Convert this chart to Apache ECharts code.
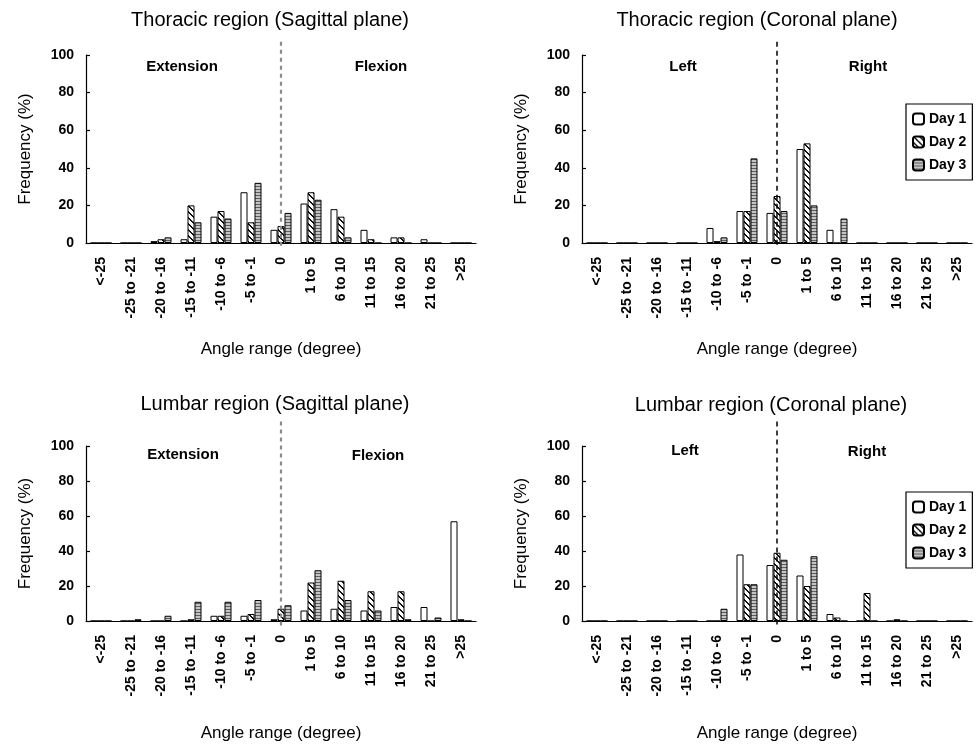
<!DOCTYPE html>
<html><head><meta charset="utf-8">
<script src="https://cdn.jsdelivr.net/npm/echarts@6/dist/echarts.min.js"></script>
<style>html,body{margin:0;padding:0;background:#fff}#c{width:977px;height:745px}</style>
</head><body><div id="c"></div>
<script>
const categories = ['<-25','-25 to -21','-20 to -16','-15 to -11','-10 to -6','-5 to -1','0','1 to 5','6 to 10','11 to 15','16 to 20','21 to 25','>25'];
const dayNames = ['Day 1','Day 2','Day 3'];
const yTicks = [0, 20, 40, 60, 80, 100];

const thoracicSagittalDay1 = [0,0,1,2,14,27,7,21,18,7,3,2,0];
const thoracicSagittalDay2 = [0,0,2,20,17,11,9,27,14,2,3,0,0];
const thoracicSagittalDay3 = [0,0,3,11,13,32,16,23,3,0,0,0,0];

const thoracicCoronalDay1 = [0,0,0,0,8,17,16,50,7,0,0,0,0];
const thoracicCoronalDay2 = [0,0,0,0,1,17,25,53,0,0,0,0,0];
const thoracicCoronalDay3 = [0,0,0,0,3,45,17,20,13,0,0,0,0];

const lumbarSagittalDay1 = [0,0,0,0,3,3,1,6,7,6,8,8,57];
const lumbarSagittalDay2 = [0,0,0,1,3,4,7,22,23,17,17,0,1];
const lumbarSagittalDay3 = [0,1,3,11,11,12,9,29,12,6,1,2,0];

const lumbarCoronalDay1 = [0,0,0,0,0,38,32,26,4,0,0,0,0];
const lumbarCoronalDay2 = [0,0,0,0,0,21,39,20,2,16,1,0,0];
const lumbarCoronalDay3 = [0,0,0,0,7,21,35,37,0,0,0,0,0];

const panelTitles = ['Thoracic region (Sagittal plane)','Thoracic region (Coronal plane)','Lumbar region (Sagittal plane)','Lumbar region (Coronal plane)'];
const sideLabels = [['Extension','Flexion'],['Left','Right'],['Extension','Flexion'],['Left','Right']];
const xName = 'Angle range (degree)';
const yName = 'Frequency (%)';

const panelData = [
  [thoracicSagittalDay1, thoracicSagittalDay2, thoracicSagittalDay3],
  [thoracicCoronalDay1, thoracicCoronalDay2, thoracicCoronalDay3],
  [lumbarSagittalDay1, lumbarSagittalDay2, lumbarSagittalDay3],
  [lumbarCoronalDay1, lumbarCoronalDay2, lumbarCoronalDay3]
];

const FONT = 'Liberation Sans, Arial, sans-serif';

function hatchPattern(){
  const c = document.createElement('canvas'); c.width = 6; c.height = 6;
  const g = c.getContext('2d');
  g.fillStyle = '#fff'; g.fillRect(0,0,6,6);
  g.fillStyle = '#111';
  for (let i = 0; i < 6; i++) { g.fillRect(i, i, 1, 1); g.fillRect((i+1)%6, i, 1, 1); }
  return c;
}
function stripePattern(){
  const c = document.createElement('canvas'); c.width = 4; c.height = 3;
  const g = c.getContext('2d');
  g.fillStyle = '#c4c4c4'; g.fillRect(0,0,4,3);
  g.fillStyle = '#5e5e5e'; g.fillRect(0,0,4,1);
  return c;
}
const dayFills = ['#ffffff', {image: hatchPattern(), repeat: 'repeat'}, {image: stripePattern(), repeat: 'repeat'}];

const grids = [
  {left: 86, top: 55, width: 390, height: 188},
  {left: 582, top: 55, width: 390, height: 188},
  {left: 86, top: 446, width: 390, height: 175},
  {left: 582, top: 446, width: 390, height: 175}
];

const xAxes = grids.map((g, i) => ({
  type: 'category', gridIndex: i, data: categories, boundaryGap: true,
  axisLine: {lineStyle: {color: '#000', width: 1.2}},
  axisTick: {inside: true, length: 5, interval: 0, lineStyle: {color: '#000', width: 1.2}},
  axisLabel: {rotate: 90, interval: 0, fontSize: 14, fontWeight: 'bold', color: '#000', fontFamily: FONT, margin: 14},
  name: xName, nameLocation: 'middle', nameGap: i < 2 ? 98 : 104,
  nameTextStyle: {fontSize: 17, color: '#000', fontFamily: FONT}
}));
const yAxes = grids.map((g, i) => ({
  type: 'value', gridIndex: i, min: yTicks[0], max: yTicks[yTicks.length-1], interval: 20,
  axisLine: {show: true, lineStyle: {color: '#000', width: 1.2}},
  axisTick: {show: true, inside: true, length: 4, lineStyle: {color: '#000', width: 1.2}},
  splitLine: {show: false},
  axisLabel: {fontSize: 14, fontWeight: 'bold', color: '#000', fontFamily: FONT, margin: 12},
  name: yName, nameLocation: 'middle', nameGap: 52, nameRotate: 90,
  nameTextStyle: {fontSize: 17, color: '#000', fontFamily: FONT}
}));

const series = [];
panelData.forEach((days, p) => {
  days.forEach((vals, d) => {
    series.push({
      type: 'bar', name: dayNames[d], xAxisIndex: p, yAxisIndex: p,
      data: vals, barWidth: 7, barGap: '0%',
      itemStyle: {color: dayFills[d], borderColor: '#000', borderWidth: 1},
      emphasis: {disabled: true}, animation: false
    });
  });
});

const legendBase = {
  data: dayNames, orient: 'vertical', left: 906,
  borderColor: '#000', borderWidth: 1.2, padding: [8, 6, 8, 6],
  itemGap: 9, itemWidth: 11, itemHeight: 11,
  textStyle: {fontSize: 14, fontWeight: 'bold', color: '#000', fontFamily: FONT},
  selectedMode: false
};

const chart = echarts.init(document.getElementById('c'), null, {renderer: 'canvas'});
chart.setOption({
  animation: false,
  backgroundColor: '#fff',
  grid: grids,
  xAxis: xAxes,
  yAxis: yAxes,
  legend: [
    Object.assign({}, legendBase, {top: 104}),
    Object.assign({}, legendBase, {top: 492})
  ],
  series: series
});

// layout-only positions of titles and side labels
const titlePos = [[270, 20], [757, 20], [275, 404], [771, 405]];
const sidePos = [[[182, 67], [381, 67]], [[683, 67], [868, 67]], [[183, 455], [378, 456]], [[685, 451], [867, 452]]];
const dashStyle = [
  {stroke: '#8a8a8a', lineWidth: 2.2, lineDash: [4, 4]},
  {stroke: '#000', lineWidth: 1.5, lineDash: [5, 4]},
  {stroke: '#8a8a8a', lineWidth: 2.2, lineDash: [4, 4]},
  {stroke: '#000', lineWidth: 1.5, lineDash: [5, 4]}
];
const lineSpan = [[107, -3], [107, -3], [114, -4], [114, -4]];

const graphics = [];
for (let i = 0; i < 4; i++) {
  graphics.push({type: 'text', style: {x: titlePos[i][0], y: titlePos[i][1], text: panelTitles[i], textAlign: 'center', textVerticalAlign: 'middle', fontSize: 20, fontFamily: FONT, fill: '#000'}});
  for (let s = 0; s < 2; s++) {
    graphics.push({type: 'text', style: {x: sidePos[i][s][0], y: sidePos[i][s][1], text: sideLabels[i][s], textAlign: 'center', textVerticalAlign: 'middle', fontSize: 15, fontWeight: 'bold', fontFamily: FONT, fill: '#000'}});
  }
  const x = chart.convertToPixel({xAxisIndex: i}, '0');
  const y1 = chart.convertToPixel({yAxisIndex: i}, lineSpan[i][0]);
  const y2 = chart.convertToPixel({yAxisIndex: i}, lineSpan[i][1]);
  graphics.push({type: 'line', z: 10, shape: {x1: x, y1: y1, x2: x, y2: y2}, style: dashStyle[i]});
}
chart.setOption({graphic: graphics});
</script>
</body></html>
